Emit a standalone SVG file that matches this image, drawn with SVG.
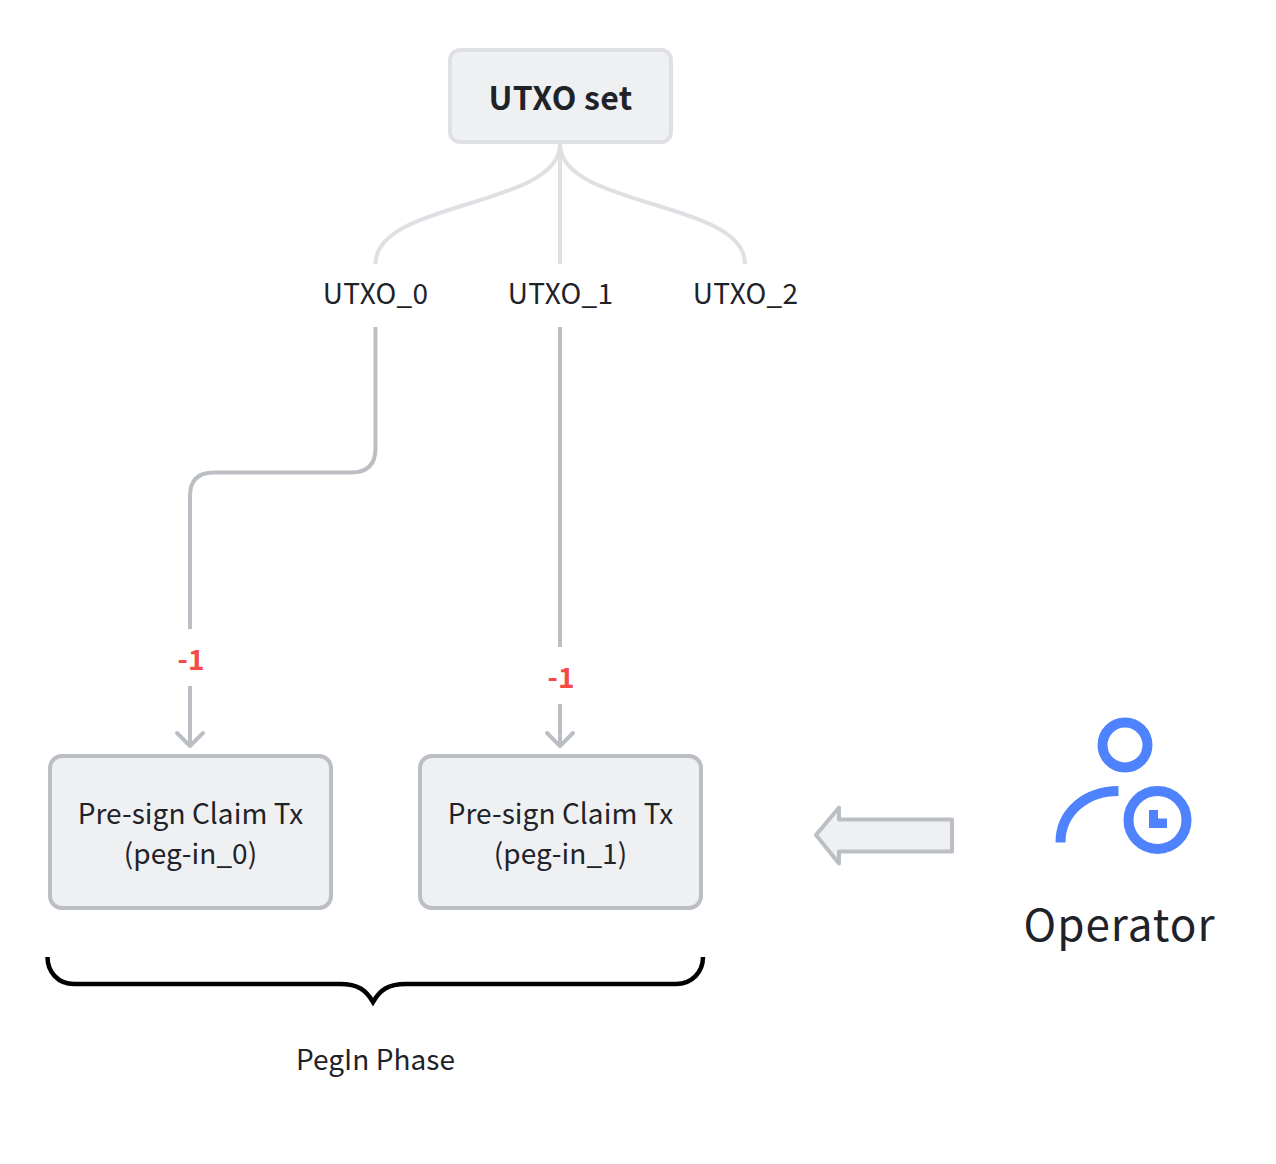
<svg xmlns="http://www.w3.org/2000/svg" width="1276" height="1164" viewBox="0 0 1276 1164">
<style>
text{font-family:"Noto Sans CJK SC","Noto Sans",sans-serif;fill:#1f2329;text-anchor:middle}
.t{font-size:28px;letter-spacing:.05px}
.u{letter-spacing:.3px}
.box{fill:#eff0f1;stroke:#bbbfc4;stroke-width:4}
.light{fill:none;stroke:#dee0e3;stroke-width:4}
.dark{fill:none;stroke:#bbbfc4;stroke-width:4}
.red{font-size:28px;font-weight:700;fill:#f54a45}
.blue{fill:none;stroke:#4e83fd;stroke-width:10}
</style>
<rect width="1276" height="1164" fill="#fff"/>
<g id="connectors">
<path class="light" d="M560 144C560 208 375.500 200 375.500 264"/>
<path class="light" d="M560 144V264"/>
<path class="light" d="M560 144C560 208 745 200 745 264"/>
<path class="dark" d="M375.500 327V448Q375.500 472.500 351.500 472.500H214Q190 472.500 190 496V629"/>
<path class="dark" d="M190 686V745"/>
<path class="dark" d="M177 733L190 746L203 733" stroke-linecap="round" stroke-linejoin="round"/>
<path class="dark" d="M560 327V647"/>
<path class="dark" d="M560 704V745"/>
<path class="dark" d="M547 733L560 746L573 733" stroke-linecap="round" stroke-linejoin="round"/>
</g>
<g id="utxo-set"><rect class="box" style="stroke:#dee0e3" x="450" y="50" width="221" height="92" rx="10"/><text x="560.500" y="110" font-size="32" font-weight="700" letter-spacing=".25">UTXO set</text></g>
<g id="utxo0"><text class="t u" x="375.500" y="304">UTXO_0</text></g>
<g id="utxo1"><text class="t u" x="560.500" y="304">UTXO_1</text></g>
<g id="utxo2"><text class="t u" x="745.500" y="304">UTXO_2</text></g>
<g id="label0"><text class="red" x="191" y="670">-1</text></g>
<g id="label1"><text class="red" x="561" y="688">-1</text></g>
<g id="claim0"><rect class="box" x="50" y="756" width="281" height="152" rx="12"/><text class="t" x="190.500" y="824">Pre-sign Claim Tx</text><text class="t" x="190.500" y="864">(peg-in_0)</text></g>
<g id="claim1"><rect class="box" x="420" y="756" width="281" height="152" rx="12"/><text class="t" x="560.500" y="824">Pre-sign Claim Tx</text><text class="t" x="560.500" y="864">(peg-in_1)</text></g>
<g id="arrow"><path class="box" stroke-linejoin="round" d="M816 835L839 807.500V819.500H952V851.500H839V863.500Z"/></g>
<g id="operator">
<circle class="blue" cx="1125" cy="745" r="22.500"/>
<path class="blue" d="M1060.500 842.500C1060.500 812 1086 791 1118.500 791"/>
<circle class="blue" cx="1157.500" cy="820" r="29"/>
<path d="M1149 810H1158V818.500H1167V828H1149Z" fill="#4e83fd"/>
<text x="1119.500" y="941" font-size="44" letter-spacing="1">Operator</text>
</g>
<g id="brace"><path fill="none" stroke="#000" stroke-width="4.500" d="M47.500 957C47.500 972 58 984 74 984H340C358 984 366 990 373 1002C380 990 388 984 406 984H676C692 984 703 972 703 957"/></g>
<g id="pegin-label"><text class="t" x="375.500" y="1070">PegIn Phase</text></g>
</svg>
